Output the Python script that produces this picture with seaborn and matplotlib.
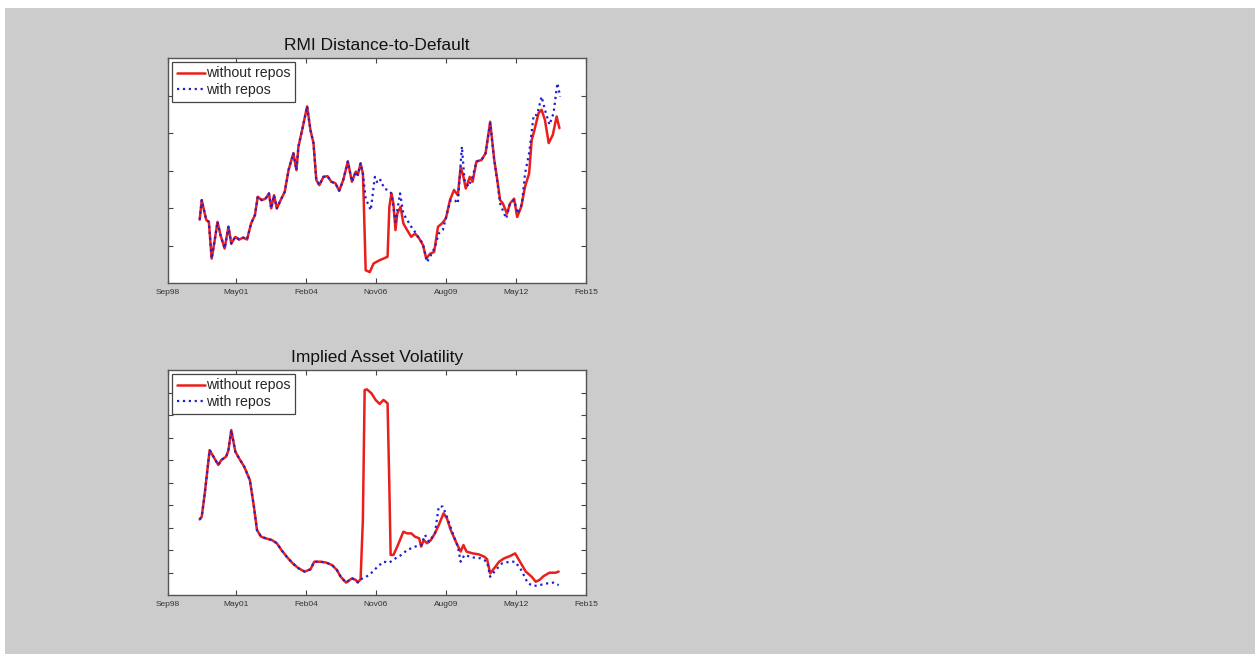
import numpy as np
import pandas as pd
import seaborn as sns
import matplotlib.pyplot as plt
import matplotlib.dates as mdates
from matplotlib.patches import Rectangle

sns.set_style('ticks')
plt.rcParams['font.family'] = ['Liberation Sans', 'DejaVu Sans']

# Dates as decimal years (axis units arbitrary)
# RMI Distance-to-Default, common part before the two series split
dd_t_common = [1999.91, 1999.99, 2000.11, 2000.17, 2000.27, 2000.38, 2000.50, 2000.61, 2000.73, 2000.89,
               2001.04, 2001.15, 2001.31, 2001.46, 2001.62, 2001.77, 2001.93, 2002.08, 2002.19, 2002.35,
               2002.50, 2002.63, 2002.72, 2002.83, 2002.94, 2003.09, 2003.25, 2003.40, 2003.59, 2003.71,
               2003.79, 2003.95, 2004.13, 2004.26, 2004.38, 2004.49, 2004.61, 2004.77, 2004.93, 2005.08,
               2005.24, 2005.39, 2005.55, 2005.73, 2005.89, 2006.04, 2006.12, 2006.23, 2006.32]
dd_common = [1.69, 2.21, 1.85, 1.68, 1.63, 0.65, 1.14, 1.63, 1.27, 0.92,
             1.50, 1.05, 1.23, 1.16, 1.21, 1.16, 1.59, 1.81, 2.30, 2.21,
             2.25, 2.39, 1.99, 2.34, 1.99, 2.21, 2.43, 3.01, 3.46, 3.01,
             3.64, 4.13, 4.71, 4.08, 3.73, 2.75, 2.61, 2.83, 2.85, 2.70,
             2.66, 2.46, 2.75, 3.24, 2.70, 2.97, 2.88, 3.19, 2.92]

dd_t_without = [2006.35, 2006.39, 2006.43, 2006.59, 2006.74, 2006.98, 2007.13, 2007.29, 2007.36, 2007.44,
                2007.52, 2007.60, 2007.67, 2007.80, 2007.91, 2008.06, 2008.22, 2008.37, 2008.53, 2008.68,
                2008.81, 2008.96, 2009.12, 2009.27, 2009.43, 2009.58, 2009.74, 2009.90, 2010.05, 2010.16,
                2010.27, 2010.36, 2010.52, 2010.63, 2010.78, 2010.98, 2011.14, 2011.32, 2011.48, 2011.60,
                2011.71, 2011.82, 2011.98, 2012.10, 2012.26, 2012.38, 2012.54, 2012.69, 2012.85, 2012.95,
                2013.06, 2013.22, 2013.34, 2013.47, 2013.62, 2013.78, 2013.93, 2014.04]
dd_without = [2.30, 1.32, 0.34, 0.29, 0.52, 0.61, 0.65, 0.70, 2.03, 2.39,
              2.12, 1.41, 1.85, 2.03, 1.59, 1.41, 1.23, 1.32, 1.19, 1.01,
              0.65, 0.78, 0.83, 1.50, 1.59, 1.72, 2.21, 2.48, 2.34, 3.10,
              2.83, 2.52, 2.83, 2.70, 3.24, 3.28, 3.46, 4.30, 3.28, 2.75,
              2.21, 2.12, 1.85, 2.12, 2.25, 1.76, 2.03, 2.57, 2.92, 3.81,
              4.08, 4.53, 4.62, 4.35, 3.73, 3.95, 4.44, 4.13]

dd_t_with = [2006.43, 2006.63, 2006.79, 2006.90, 2007.01, 2007.16, 2007.29, 2007.44, 2007.60, 2007.78,
             2007.91, 2008.06, 2008.22, 2008.37, 2008.53, 2008.68, 2008.84, 2008.99, 2009.15, 2009.30,
             2009.46, 2009.62, 2009.77, 2009.93, 2010.05, 2010.21, 2010.31, 2010.47, 2010.63, 2010.78,
             2010.98, 2011.14, 2011.32, 2011.48, 2011.60, 2011.71, 2011.95, 2012.10, 2012.26, 2012.41,
             2012.57, 2012.69, 2012.85, 2013.03, 2013.16, 2013.34, 2013.47, 2013.65, 2013.81, 2013.96,
             2014.07]
dd_with = [2.25, 1.94, 2.83, 2.66, 2.75, 2.52, 2.48, 2.39, 1.63, 2.39,
           1.85, 1.68, 1.50, 1.36, 1.19, 1.05, 0.56, 0.74, 0.96, 1.32,
           1.41, 1.85, 2.21, 2.21, 2.12, 3.64, 2.75, 2.57, 2.83, 3.24,
           3.28, 3.46, 4.26, 3.28, 2.70, 2.12, 1.72, 2.12, 2.21, 1.85,
           2.12, 2.92, 3.46, 4.48, 4.48, 4.97, 4.62, 4.22, 4.53, 5.33,
           4.97]

# Implied Asset Volatility
vol_t_common = [1999.91, 1999.99, 2000.11, 2000.30, 2000.45, 2000.64, 2000.76, 2000.95, 2001.04, 2001.15,
                2001.31, 2001.46, 2001.66, 2001.88, 2002.04, 2002.16, 2002.32, 2002.50, 2002.75, 2002.94,
                2003.12, 2003.33, 2003.56, 2003.79, 2004.03, 2004.26, 2004.41, 2004.65, 2004.88, 2005.11,
                2005.30, 2005.45, 2005.66, 2005.89, 2006.04, 2006.12, 2006.23]
vol_common = [3.36, 3.48, 4.52, 6.44, 6.15, 5.78, 6.00, 6.15, 6.44, 7.33,
              6.37, 6.07, 5.70, 5.11, 3.93, 2.89, 2.59, 2.52, 2.44, 2.30,
              2.00, 1.70, 1.41, 1.19, 1.04, 1.14, 1.48, 1.48, 1.44, 1.33,
              1.11, 0.81, 0.55, 0.74, 0.67, 0.56, 0.70]

vol_t_without = [2006.32, 2006.39, 2006.48, 2006.66, 2006.82, 2006.98, 2007.13, 2007.29, 2007.36, 2007.41,
                 2007.52, 2007.67, 2007.91, 2008.06, 2008.22, 2008.37, 2008.53, 2008.61, 2008.71, 2008.84,
                 2008.99, 2009.15, 2009.30, 2009.49, 2009.62, 2009.77, 2010.00, 2010.16, 2010.27, 2010.39,
                 2010.63, 2010.86, 2011.09, 2011.20, 2011.32, 2011.48, 2011.67, 2011.87, 2012.10, 2012.30,
                 2012.49, 2012.72, 2012.95, 2013.11, 2013.26, 2013.42, 2013.65, 2013.89, 2014.01]
vol_without = [3.33, 9.11, 9.14, 8.96, 8.67, 8.49, 8.67, 8.52, 4.81, 1.78,
               1.78, 2.15, 2.81, 2.74, 2.74, 2.59, 2.52, 2.15, 2.44, 2.30,
               2.44, 2.74, 3.11, 3.63, 3.41, 2.89, 2.30, 1.93, 2.22, 1.93,
               1.85, 1.81, 1.70, 1.59, 0.96, 1.19, 1.48, 1.63, 1.73, 1.85,
               1.48, 1.04, 0.81, 0.59, 0.67, 0.84, 0.99, 0.99, 1.04]

vol_t_with = [2006.43, 2006.66, 2006.90, 2007.13, 2007.36, 2007.60, 2007.83, 2008.06, 2008.37, 2008.61,
              2008.76, 2008.92, 2009.15, 2009.30, 2009.46, 2009.62, 2009.85, 2010.05, 2010.16, 2010.31,
              2010.63, 2010.94, 2011.20, 2011.32, 2011.56, 2011.79, 2012.10, 2012.30, 2012.54, 2012.80,
              2013.03, 2013.26, 2013.58, 2013.81, 2014.01]
vol_with = [0.79, 0.99, 1.26, 1.48, 1.44, 1.63, 1.78, 2.00, 2.15, 2.22,
            2.67, 2.37, 2.74, 3.93, 3.93, 3.48, 2.74, 2.15, 1.48, 1.78,
            1.67, 1.63, 1.48, 0.81, 1.14, 1.41, 1.48, 1.48, 1.11, 0.52,
            0.40, 0.44, 0.52, 0.55, 0.44]

tick_dates = ['1998-09-01', '2001-05-01', '2004-02-01', '2006-11-01', '2009-08-01', '2012-05-01', '2015-02-01']


def to_dates(years):
    years = np.asarray(years)
    return pd.Timestamp('1998-01-01') + pd.to_timedelta((years - 1998) * 365.25, unit='D')


def draw_panel(ax, t_common, common, t_without, without, t_with, with_, title, ymax):
    red = pd.DataFrame({'date': to_dates(t_common + t_without), 'value': common + without})
    blue = pd.DataFrame({'date': to_dates(t_common + t_with), 'value': common + with_})
    sns.lineplot(data=red, x='date', y='value', ax=ax, color='#ea1f1c', linewidth=1.8,
                 estimator=None, label='without repos')
    sns.lineplot(data=blue, x='date', y='value', ax=ax, color='#2020d0', linewidth=1.6,
                 linestyle=':', estimator=None, label='with repos')
    ax.set_xlim(pd.Timestamp(tick_dates[0]), pd.Timestamp(tick_dates[-1]))
    ax.set_ylim(0, ymax)
    ax.set_xticks([pd.Timestamp(d) for d in tick_dates])
    ax.xaxis.set_major_formatter(mdates.DateFormatter('%b%y'))
    ax.set_yticks(range(1, ymax))
    ax.set_yticklabels([])
    ax.tick_params(direction='in', top=True, right=True, length=3.5, width=0.8,
                   colors='#444444', labelsize=6, pad=4)
    ax.tick_params(axis='x', labelcolor='#333333')
    for s in ax.spines.values():
        s.set_visible(True)
        s.set_color('#555555')
        s.set_linewidth(1.0)
    ax.set_xlabel('')
    ax.set_ylabel('')
    ax.set_title(title, fontsize=12.5, color='#111111', pad=6)
    ax.set_facecolor('white')
    leg = ax.legend(loc='upper left', fontsize=10.2, frameon=True, fancybox=False, framealpha=1,
                    edgecolor='#444444', borderaxespad=0.3, handlelength=2.0, handletextpad=0.1,
                    borderpad=0.3, labelspacing=0.2)
    leg.get_frame().set_linewidth(0.9)


fig = plt.figure(figsize=(12.55, 6.54), dpi=100)
fig.patch.set_facecolor('#cccccc')
fig.patches.append(Rectangle((0, 1 - 8 / 654), 1, 8 / 654, transform=fig.transFigure,
                             facecolor='white', edgecolor='none', zorder=-1))
fig.patches.append(Rectangle((0, 0), 5 / 1255, 1, transform=fig.transFigure,
                             facecolor='white', edgecolor='none', zorder=-1))

ax1 = fig.add_axes([168 / 1255, 1 - 283 / 654, 418 / 1255, 225 / 654])
ax2 = fig.add_axes([168 / 1255, 1 - 595 / 654, 418 / 1255, 225 / 654])

draw_panel(ax1, dd_t_common, dd_common, dd_t_without, dd_without, dd_t_with, dd_with,
           'RMI Distance-to-Default', 6)
draw_panel(ax2, vol_t_common, vol_common, vol_t_without, vol_without, vol_t_with, vol_with,
           'Implied Asset Volatility', 10)

fig.savefig('out.png', dpi=100, facecolor=fig.get_facecolor())
